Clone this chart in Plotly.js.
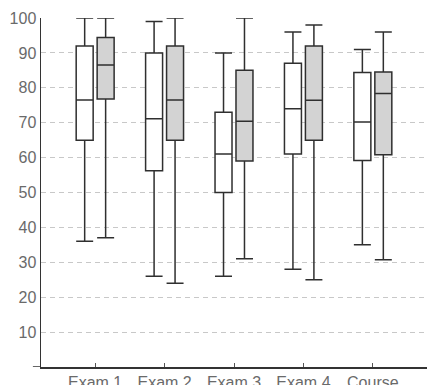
<!DOCTYPE html>
<html><head><meta charset="utf-8">
<script src="https://cdn.plot.ly/plotly-3.0.1.min.js"></script>
<style>html,body{margin:0;padding:0;background:#fff;}#c{width:427px;height:385px;}</style>
</head><body><div id="c"></div>
<script>
const categories = ["Exam 1", "Exam 2", "Exam 3", "Exam 4", "Course"];
const yTicks = [10, 20, 30, 40, 50, 60, 70, 80, 90, 100];

// Series A (white boxes)
const aLower  = [36, 26, 26, 28, 35];
const aQ1     = [65, 56.2, 50, 61, 59.2];
const aMedian = [76.5, 71.1, 61, 74, 70.2];
const aQ3     = [92, 90, 73, 87, 84.4];
const aUpper  = [100, 99, 90, 96, 91];

// Series B (gray boxes)
const bLower  = [37, 24, 31, 25, 30.7];
const bQ1     = [76.8, 65, 59, 65, 60.8];
const bMedian = [86.5, 76.5, 70.4, 76.4, 78.4];
const bQ3     = [94.4, 92, 85, 92, 84.5];
const bUpper  = [100, 100, 100, 98, 96];

const lineCol = '#2f2f2f';
function boxTrace(lower, q1, med, q3, upper, fill) {
  return {
    type: 'box', x: categories,
    lowerfence: lower, q1: q1, median: med, q3: q3, upperfence: upper,
    fillcolor: fill, line: {color: lineCol, width: 1.5},
    whiskerwidth: 1, boxpoints: false, hoverinfo: 'skip', showlegend: false
  };
}

const data = [
  boxTrace(aLower, aQ1, aMedian, aQ3, aUpper, '#ffffff'),
  boxTrace(bLower, bQ1, bMedian, bQ3, bUpper, '#d3d3d3')
];

const fontCol = '#6a6a6a';
const layout = {
  width: 427, height: 385,
  margin: {l: 41, r: 0, t: 18, b: 18, pad: 0},
  paper_bgcolor: '#fff', plot_bgcolor: '#fff',
  boxmode: 'group', boxgap: 0.396, boxgroupgap: 0.19,
  font: {family: 'Liberation Sans, Arial, sans-serif', size: 16, color: fontCol},
  xaxis: {
    type: 'category', range: [-0.78, 4.78],
    showgrid: false, zeroline: false,
    showline: true, linecolor: '#333', linewidth: 1.5,
    ticks: 'inside', ticklen: 4, tickcolor: '#555', tickwidth: 1,
    tickfont: {size: 16, color: fontCol}
  },
  yaxis: {
    range: [0, 100], tickvals: yTicks, ticktext: yTicks.map(String),
    showgrid: true, gridcolor: '#c8c8c8', griddash: '5px,4px', gridwidth: 1,
    zeroline: false, showline: true, linecolor: '#333', linewidth: 1.5,
    ticks: '', tickfont: {size: 16, color: fontCol}
  },
  shapes: [{type: 'line', xref: 'paper', yref: 'y', x0: -0.021, x1: 0, y0: 0, y1: 0,
            line: {color: '#333', width: 1.5}}]
};

Plotly.newPlot('c', data, layout, {displayModeBar: false, staticPlot: true});
</script></body></html>
